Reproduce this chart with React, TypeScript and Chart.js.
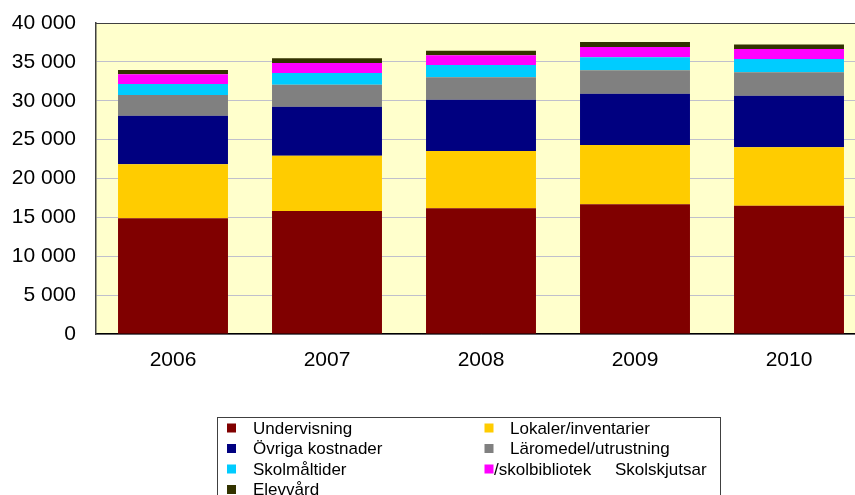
import React, { useEffect, useRef } from "react";
import { Chart, registerables } from "chart.js";

Chart.register(...registerables);

const years = ["2006", "2007", "2008", "2009", "2010"];
const undervisning = [14880, 15820, 16160, 16680, 16500];
const lokaler = [6950, 7115, 7375, 7630, 7505];
const ovriga = [6255, 6305, 6600, 6605, 6645];
const laromedel = [2660, 2825, 2875, 3000, 3000];
const skolmaltider = [1415, 1500, 1585, 1675, 1715];
const skolskjutsar = [1245, 1285, 1245, 1330, 1285];
const elevvard = [555, 605, 595, 640, 600];

const seriesLabels = [
  "Undervisning",
  "Lokaler/inventarier",
  "Övriga kostnader",
  "Läromedel/utrustning",
  "Skolmåltider",
  "/skolbibliotek     Skolskjutsar",
  "Elevvård",
];
const seriesColors = ["#800000", "#FFCC00", "#000080", "#808080", "#00CCFF", "#FF00FF", "#333300"];

const FONT = '"Liberation Sans", Arial, sans-serif';

const fmt = (v: number) => String(v).replace(/\B(?=(\d{3})+(?!\d))/g, " ");

const plotBg = {
  id: "plotBg",
  beforeDatasetsDraw(chart: any) {
    const { ctx, chartArea } = chart;
    ctx.save();
    ctx.globalCompositeOperation = "destination-over";
    ctx.fillStyle = "#FFFFCC";
    ctx.fillRect(chartArea.left, chartArea.top, chartArea.right - chartArea.left, chartArea.bottom - chartArea.top);
    ctx.restore();
  },
  afterDatasetsDraw(chart: any) {
    const { ctx, chartArea } = chart;
    ctx.save();
    ctx.strokeStyle = "#404040";
    ctx.lineWidth = 1;
    ctx.beginPath();
    ctx.moveTo(chartArea.left, chartArea.top + 0.5);
    ctx.lineTo(chartArea.right, chartArea.top + 0.5);
    ctx.stroke();
    ctx.restore();
  },
};

const customLegend = {
  id: "customLegend",
  afterDraw(chart: any) {
    const { ctx } = chart;
    const ds = chart.data.datasets;
    ctx.save();
    ctx.fillStyle = "#FFFFFF";
    ctx.fillRect(217, 417, 503, 90);
    ctx.strokeStyle = "#404040";
    ctx.lineWidth = 1;
    ctx.strokeRect(217.5, 417.5, 503, 90);
    ctx.font = `17px ${FONT}`;
    ctx.textBaseline = "middle";
    ctx.textAlign = "left";
    const rowY = [428, 448.5, 469, 489.5];
    ds.forEach((d: any, i: number) => {
      const row = Math.floor(i / 2);
      const col = i % 2;
      const y = rowY[row];
      const sqX = col === 0 ? 227 : 484.5;
      ctx.fillStyle = d.backgroundColor;
      ctx.fillRect(sqX, y - 4.5, 9, 9);
      ctx.fillStyle = "#000000";
      const tx = col === 0 ? 253 : i === 5 ? 494 : 510;
      ctx.fillText(d.label, tx, y + 1);
    });
    ctx.restore();
  },
};

export default function App() {
  const ref = useRef<HTMLCanvasElement | null>(null);

  useEffect(() => {
    if (!ref.current) return;
    const values = [undervisning, lokaler, ovriga, laromedel, skolmaltider, skolskjutsar, elevvard];
    const chart = new Chart(ref.current, {
      type: "bar",
      data: {
        labels: years,
        datasets: values.map((v, i) => ({
          label: seriesLabels[i],
          data: v,
          backgroundColor: seriesColors[i],
          borderWidth: 0,
          categoryPercentage: 1,
          barPercentage: 0.714,
        })),
      },
      options: {
        animation: false,
        responsive: false,
        devicePixelRatio: 1,
        layout: { padding: { left: 0, top: 23, right: 4, bottom: 0 } },
        plugins: {
          legend: { display: false },
          tooltip: { enabled: false },
          title: { display: false },
        },
        scales: {
          x: {
            stacked: true,
            grid: { display: false, drawTicks: false },
            border: { color: "#000000", width: 1.5 },
            ticks: { color: "#000000", font: { family: FONT, size: 21 }, padding: 14 },
            afterFit: (s: any) => {
              s.height = 161;
              s.paddingLeft = 0;
              s.paddingRight = 0;
            },
          },
          y: {
            stacked: true,
            min: 0,
            max: 40000,
            grid: { color: "#C0C0CC", lineWidth: 1, drawTicks: false },
            border: { color: "#404040", width: 1.5 },
            ticks: {
              stepSize: 5000,
              color: "#000000",
              font: { family: FONT, size: 21 },
              padding: 20,
              callback: (v: any) => fmt(Number(v)),
            },
            afterFit: (s: any) => {
              s.width = 96;
              s.paddingTop = 0;
              s.paddingBottom = 0;
            },
          },
        },
      },
      plugins: [plotBg, customLegend],
    });
    return () => chart.destroy();
  }, []);

  return (
    <div style={{ position: "fixed", left: 0, top: 0, width: 855, height: 495, overflow: "hidden", background: "#FFFFFF" }}>
      <canvas ref={ref} width={870} height={495} style={{ width: 870, height: 495, display: "block" }} />
    </div>
  );
}
